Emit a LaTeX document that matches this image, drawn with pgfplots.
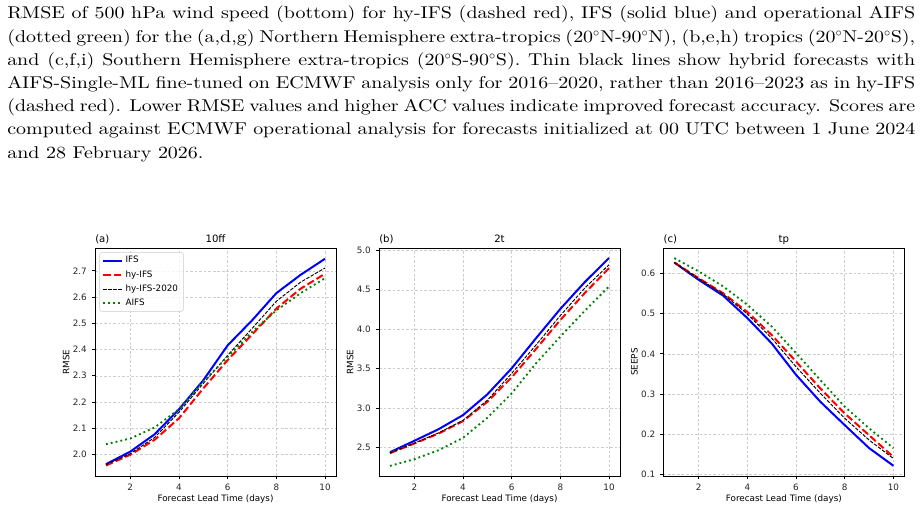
\documentclass[border=0pt]{standalone}
\usepackage{fontspec}
\setmainfont{lmroman10-regular.otf}[FakeStretch=1.17]
\usepackage{pgfplots}
\usepackage{pgfplotstable}
\pgfplotsset{compat=1.18}
\newfontfamily\djv{DejaVu Sans}

\definecolor{mblue}{RGB}{0,0,255}
\definecolor{mred}{RGB}{255,0,0}
\definecolor{mgreen}{RGB}{0,128,0}
\definecolor{gridgray}{RGB}{205,205,205}

% 10 m wind speed RMSE, northern extra-tropics
\pgfplotstableread{
day ifs   hy    hy20  aifs
1   1.963 1.958 1.961 2.039
2   2.011 1.999 2.003 2.061
3   2.077 2.056 2.065 2.103
4   2.172 2.138 2.161 2.173
5   2.283 2.252 2.271 2.278
6   2.416 2.360 2.378 2.372
7   2.511 2.457 2.480 2.467
8   2.615 2.556 2.584 2.549
9   2.685 2.632 2.657 2.615
10  2.746 2.689 2.711 2.672
}\tenff

% 2 m temperature RMSE
\pgfplotstableread{
day ifs   hy    hy20  aifs
1   2.440 2.428 2.432 2.267
2   2.585 2.551 2.555 2.352
3   2.733 2.678 2.686 2.466
4   2.911 2.835 2.845 2.623
5   3.174 3.080 3.100 2.877
6   3.504 3.390 3.440 3.186
7   3.886 3.750 3.800 3.568
8   4.258 4.118 4.174 3.907
9   4.597 4.458 4.521 4.233
10  4.903 4.775 4.818 4.542
}\twot

% total precipitation SEEPS
\pgfplotstableread{
day ifs   hy    hy20  aifs
1   0.627 0.627 0.627 0.638
2   0.584 0.588 0.587 0.605
3   0.545 0.551 0.549 0.568
4   0.489 0.504 0.499 0.522
5   0.426 0.447 0.439 0.468
6   0.348 0.381 0.368 0.402
7   0.281 0.314 0.302 0.335
8   0.223 0.252 0.240 0.269
9   0.166 0.198 0.186 0.215
10  0.122 0.144 0.140 0.166
}\tp

\newcommand\plotfont{\djv\fontsize{6.6}{8}\selectfont}
\newcommand\legfont{\djv\fontsize{6.6}{7.9}\selectfont}
\newcommand\titfont{\djv\fontsize{7.6}{9}\selectfont}

\pgfplotsset{
  panel/.style={
    scale only axis, width=180.75pt, height=171pt,
    xmin=0.55, xmax=10.45, xtick={2,4,6,8,10},
    tick pos=left, tick align=outside, major tick length=2.6pt,
    axis line style={line width=0.6pt},
    every tick/.style={black, line width=0.6pt},
    grid=major,
    major grid style={gridgray, dash pattern=on 2pt off 1.4pt, line width=0.4pt},
    /pgf/number format/assume math mode=true,
    tick label style={font=\plotfont, text=black!85},
    yticklabel style={/pgf/number format/.cd, fixed, fixed zerofill, precision=1},
    label style={font=\plotfont},
    xlabel={Forecast Lead Time (days)},
    xlabel style={at={(axis description cs:0.5,-0.101)}, anchor=center},
    ylabel style={at={(axis description cs:-0.12,0.5)}, anchor=center},
  },
  ifsline/.style={mblue, line width=1.5pt, solid},
  hyline/.style={mred, line width=1.5pt, dash pattern=on 5.5pt off 2.4pt},
  hytwline/.style={black, line width=0.7pt, dash pattern=on 2.6pt off 1.1pt},
  aifsline/.style={mgreen, line width=1.4pt, dash pattern=on 1.4pt off 2.3pt},
}

\newcommand\heading[2]{%
  \node[font=\titfont, anchor=base west, inner sep=0pt] at ([yshift=4.3pt]rel axis cs:0,1) {#1};
  \node[font=\titfont, anchor=base, inner sep=0pt] at ([yshift=4.3pt]rel axis cs:0.5,1) {#2};
}

\newcommand\capline[1]{\makebox[681pt][s]{#1}\\}

\begin{document}
\begin{tikzpicture}
\path[use as bounding box] (0,0) rectangle (691.5pt,-382.5pt);

\node[anchor=base west, inner sep=0pt] at (5.25pt,-14.25pt) {\parbox[t]{681pt}{%
  \fontsize{12.8}{17.4}\selectfont
  \capline{RMSE of 500 hPa wind speed (bottom) for hy-IFS (dashed red), IFS (solid blue) and operational AIFS}
  \capline{(dotted green) for the (a,d,g) Northern Hemisphere extra-tropics (20$^\circ$N-90$^\circ$N), (b,e,h) tropics (20$^\circ$N-20$^\circ$S),}
  \capline{and (c,f,i) Southern Hemisphere extra-tropics (20$^\circ$S-90$^\circ$S). Thin black lines show hybrid forecasts with}
  \capline{AIFS-Single-ML fine-tuned on ECMWF analysis only for 2016--2020, rather than 2016--2023 as in hy-IFS}
  \capline{(dashed red). Lower RMSE values and higher ACC values indicate improved forecast accuracy. Scores are}
  \capline{computed against ECMWF operational analysis for forecasts initialized at 00 UTC between 1 June 2024}
  and 28 February 2026.}};

% (a) 10 m wind speed
\begin{axis}[panel, at={(71.25pt,-357pt)}, anchor=south west,
  ymin=1.918, ymax=2.787, ytick={2.0,2.1,...,2.75}, ylabel={RMSE},
  legend cell align=left,
  legend image code/.code={\draw[#1] (0pt,0pt) -- (14pt,0pt);},
  legend style={at={(rel axis cs:0.018,0.981)}, anchor=north west,
    font=\legfont, draw=black!20, rounded corners=1.5pt,
    fill=white, fill opacity=0.8, text opacity=1,
    inner xsep=2pt, inner ysep=1.8pt, row sep=2.2pt,
    nodes={inner xsep=2pt, inner ysep=1pt}},
  extra description/.code={\heading{(a)}{10ff}}]
\addplot[ifsline] table[x=day, y=ifs] {\tenff};
\addlegendentry{IFS}
\addplot[hyline] table[x=day, y=hy] {\tenff};
\addlegendentry{hy-IFS}
\addplot[hytwline] table[x=day, y=hy20] {\tenff};
\addlegendentry{hy-IFS-2020}
\addplot[aifsline] table[x=day, y=aifs] {\tenff};
\addlegendentry{AIFS}
\end{axis}

% (b) 2 m temperature
\begin{axis}[panel, at={(284.25pt,-357pt)}, anchor=south west,
  ymin=2.139, ymax=5.03, ytick={2.5,3.0,...,5.01}, ylabel={RMSE},
  extra description/.code={\heading{(b)}{2t}}]
\addplot[ifsline] table[x=day, y=ifs] {\twot};
\addplot[hyline] table[x=day, y=hy] {\twot};
\addplot[hytwline] table[x=day, y=hy20] {\twot};
\addplot[aifsline] table[x=day, y=aifs] {\twot};
\end{axis}

% (c) total precipitation
\begin{axis}[panel, at={(497.5pt,-357pt)}, anchor=south west,
  ymin=0.0965, ymax=0.663, ytick={0.1,0.2,...,0.61}, ylabel={SEEPS},
  extra description/.code={\heading{(c)}{tp}}]
\addplot[ifsline] table[x=day, y=ifs] {\tp};
\addplot[hyline] table[x=day, y=hy] {\tp};
\addplot[hytwline] table[x=day, y=hy20] {\tp};
\addplot[aifsline] table[x=day, y=aifs] {\tp};
\end{axis}
\end{tikzpicture}
\end{document}
